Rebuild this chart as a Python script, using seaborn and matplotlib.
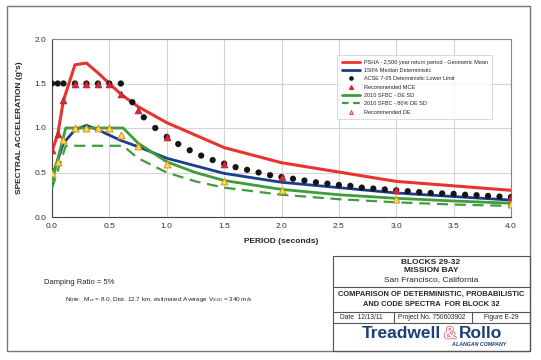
import numpy as np
import pandas as pd
import matplotlib
matplotlib.use('agg')
import matplotlib.pyplot as plt
import matplotlib.patheffects as pe
from matplotlib.lines import Line2D
from matplotlib.patches import Rectangle
import seaborn as sns

# PSHA 2,500 yr geometric mean
psha_t = [0.0, 0.05, 0.1, 0.2, 0.3, 0.4, 0.5, 0.6, 0.75, 1.0, 1.5, 2.0, 3.0, 4.0]
psha_sa = [0.74, 0.93, 1.31, 1.71, 1.73, 1.62, 1.50, 1.38, 1.24, 1.06, 0.78, 0.61, 0.40, 0.30]

# 150% median deterministic
det_t = [0.0, 0.05, 0.1, 0.2, 0.3, 0.4, 0.5, 0.6, 0.75, 1.0, 1.5, 2.0, 3.0, 4.0]
det_sa = [0.45, 0.64, 0.83, 0.98, 1.03, 0.98, 0.92, 0.86, 0.79, 0.66, 0.49, 0.39, 0.27, 0.19]

# ASCE 7-05 deterministic lower limit
asce_t = [0.0, 0.05, 0.1, 0.2, 0.3, 0.4, 0.5, 0.6, 0.7, 0.8, 0.9, 1.0,
          1.1, 1.2, 1.3, 1.4, 1.5, 1.6, 1.7, 1.8, 1.9, 2.0,
          2.1, 2.2, 2.3, 2.4, 2.5, 2.6, 2.7, 2.8, 2.9, 3.0,
          3.1, 3.2, 3.3, 3.4, 3.5, 3.6, 3.7, 3.8, 3.9, 4.0]
asce_sa = [1.5, 1.5, 1.5, 1.5, 1.5, 1.5, 1.5, 1.5, 1.29, 1.12, 1.0, 0.9,
           0.82, 0.75, 0.69, 0.64, 0.6, 0.56, 0.53, 0.5, 0.47, 0.45,
           0.43, 0.41, 0.39, 0.375, 0.36, 0.35, 0.33, 0.32, 0.31, 0.3,
           0.29, 0.28, 0.27, 0.265, 0.26, 0.25, 0.245, 0.237, 0.23, 0.225]

# recommended MCE
mce_t = [0.0, 0.05, 0.1, 0.2, 0.3, 0.4, 0.5, 0.6, 0.75, 1.0, 1.5, 2.0, 3.0, 4.0]
mce_sa = [0.75, 0.93, 1.31, 1.5, 1.5, 1.5, 1.5, 1.38, 1.2, 0.9, 0.6, 0.45, 0.3, 0.23]

# 2010 SFBC DE SD and 80%
sfbc_t = [0.0, 0.12, 0.62, 0.75, 1.0, 1.25, 1.5, 2.0, 2.5, 3.0, 3.5, 4.0]
sfbc_sa = [0.40, 1.0, 1.0, 0.83, 0.62, 0.50, 0.41, 0.31, 0.25, 0.21, 0.18, 0.155]
sfbc80_sa = [0.32, 0.8, 0.8, 0.66, 0.50, 0.40, 0.33, 0.25, 0.20, 0.165, 0.14, 0.125]

# recommended DE
de_t = [0.0, 0.05, 0.1, 0.2, 0.3, 0.4, 0.5, 0.6, 0.75, 1.0, 1.5, 2.0, 3.0, 4.0]
de_sa = [0.5, 0.62, 0.87, 1.0, 1.0, 1.0, 1.0, 0.92, 0.8, 0.6, 0.4, 0.3, 0.2, 0.15]

RED = '#e8342f'
BLUE = '#1c3c8c'
GREEN = '#3f9d3a'
NAVY = '#1d3e78'

sns.set_style('white')
plt.rcParams['font.family'] = ['Liberation Sans', 'DejaVu Sans']

W, H = 541, 360
fig = plt.figure(figsize=(W / 100, H / 100), dpi=100)


def px(x0, y0, x1, y1):
    return [x0 / W, 1 - y1 / H, (x1 - x0) / W, (y1 - y0) / H]


ax = fig.add_axes(px(52, 39, 511, 217))

sns.lineplot(x=psha_t, y=psha_sa, ax=ax, color=RED, lw=2.2, zorder=3)
sns.lineplot(x=det_t, y=det_sa, ax=ax, color=BLUE, lw=2.0, zorder=3)
sns.lineplot(x=sfbc_t, y=sfbc_sa, ax=ax, color=GREEN, lw=2.0, zorder=3)
sns.lineplot(x=sfbc_t, y=sfbc80_sa, ax=ax, color=GREEN, lw=1.6, zorder=3,
             linestyle=(0, (5, 3)))
sns.scatterplot(x=asce_t, y=asce_sa, ax=ax, color='#151515', s=20,
                edgecolor='none', zorder=4)
sns.scatterplot(x=mce_t, y=mce_sa, ax=ax, color='#d8283a', marker='^', s=24,
                edgecolor='#b02030', linewidth=0.5, zorder=5)
sns.scatterplot(x=de_t, y=de_sa, ax=ax, color='#f6e24a', marker='^', s=24,
                edgecolor='#e08a1c', linewidth=0.7, zorder=5)

ax.set_xlim(0, 4)
ax.set_ylim(0, 2)
xt = np.arange(0, 4.01, 0.5)
yt = np.arange(0, 2.01, 0.5)
ax.set_xticks(xt)
ax.set_yticks(yt)
ax.set_xticklabels([f'{v:.1f}' for v in xt])
ax.set_yticklabels([f'{v:.1f}' for v in yt])
ax.tick_params(labelsize=6, length=0, pad=4, colors='#333333')
ax.grid(True, color='#d4d4d4', lw=0.8)
for s in ax.spines.values():
    s.set_color('#888888')
    s.set_linewidth(0.8)
ax.spines['left'].set_color('#444444')
ax.spines['bottom'].set_color('#444444')
ax.set_xlabel('PERIOD (seconds)', fontsize=6, fontweight='bold', labelpad=6)
ax.set_ylabel("SPECTRAL ACCELERATION (g's)", fontsize=6, fontweight='bold', labelpad=8)

handles = [
    Line2D([], [], color=RED, lw=2),
    Line2D([], [], color=BLUE, lw=2),
    Line2D([], [], color='#151515', marker='o', ls='none', ms=2.3),
    Line2D([], [], color='#d8283a', marker='^', ls='none', ms=2.8),
    Line2D([], [], color=GREEN, lw=2),
    Line2D([], [], color=GREEN, lw=1.6, ls=(0, (3, 2))),
    Line2D([], [], color='#f8d8d8', marker='^', ls='none', ms=2.8, mec='#d8283a', mew=0.6),
]
labels = ['PSHA - 2,500 year return period - Geometric Mean',
          '150% Median Deterministic',
          'ACSE 7-05 Deterministic Lower Limit',
          'Recommended MCE',
          '2010 SFBC - DE SD',
          '2010 SFBC - 80% DE SD',
          'Recommended DE']
leg = ax.legend(handles, labels, loc='upper left', bbox_to_anchor=(0.615, 0.925),
                fontsize=4.0, frameon=True, fancybox=False, handlelength=3.4,
                labelspacing=0.6, borderpad=0.8, handletextpad=0.6)
leg.get_frame().set_edgecolor('#cccccc')
leg.get_frame().set_linewidth(0.6)

# outer frame and title block
fig.patches.append(Rectangle((7 / W, 1 - 351 / H), (530 - 7) / W, (351 - 6) / H,
                             transform=fig.transFigure, fill=False,
                             edgecolor='#777777', lw=1.0))
fig.patches.append(Rectangle((333 / W, 1 - 351 / H), (530 - 333) / W, (351 - 256) / H,
                             transform=fig.transFigure, fill=False,
                             edgecolor='#555555', lw=0.8))
for yl in [287, 312, 323]:
    fig.add_artist(Line2D([333 / W, 530 / W], [1 - yl / H] * 2, color='#555555', lw=0.8))
for xl in [394, 472]:
    fig.add_artist(Line2D([xl / W] * 2, [1 - 312 / H, 1 - 323 / H], color='#555555', lw=0.8))


def ftext(x, y, s, **kw):
    return fig.text(x / W, 1 - y / H, s, va='center', **kw)


cx = 431
ftext(cx, 262, 'BLOCKS 29-32', ha='center', fontsize=6, fontweight='bold')
ftext(cx, 271, 'MISSION BAY', ha='center', fontsize=6, fontweight='bold')
ftext(cx, 280, 'San Francisco, California', ha='center', fontsize=6)
ftext(cx, 294, 'COMPARISON OF DETERMINISTIC, PROBABILISTIC', ha='center',
      fontsize=5.4, fontweight='bold')
ftext(cx, 304, 'AND CODE SPECTRA  FOR BLOCK 32', ha='center',
      fontsize=5.4, fontweight='bold')
ftext(340, 317.5, 'Date  12/13/11', fontsize=4.8)
ftext(398, 317.5, 'Project No. 750603902', fontsize=4.8)
ftext(484, 317.5, 'Figure E-29', fontsize=4.8)

# logo
ftext(441, 334, 'Treadwell', ha='right', fontsize=12.5, fontweight='bold', color=NAVY)
amp = ftext(450, 334, '&', ha='center', fontsize=12.5, fontweight='bold', color='white')
amp.set_path_effects([pe.Stroke(linewidth=1.0, foreground='#e0507a'), pe.Normal()])
ftext(459, 334, 'Rollo', ha='left', fontsize=12.5, fontweight='bold', color=NAVY)
ftext(506, 345, 'A LANGAN COMPANY', ha='right', fontsize=3.8, fontweight='bold',
      style='italic', color=NAVY)

ftext(44, 282, 'Damping Ratio = 5%', fontsize=5.5)
ftext(65, 299, r'Note:  M$_w$ = 8.0, Dist. 12.7 km, estimated Average V$_{S30}$ = 340 m/s',
      fontsize=4.6)

fig.savefig('out.png', dpi=100)
